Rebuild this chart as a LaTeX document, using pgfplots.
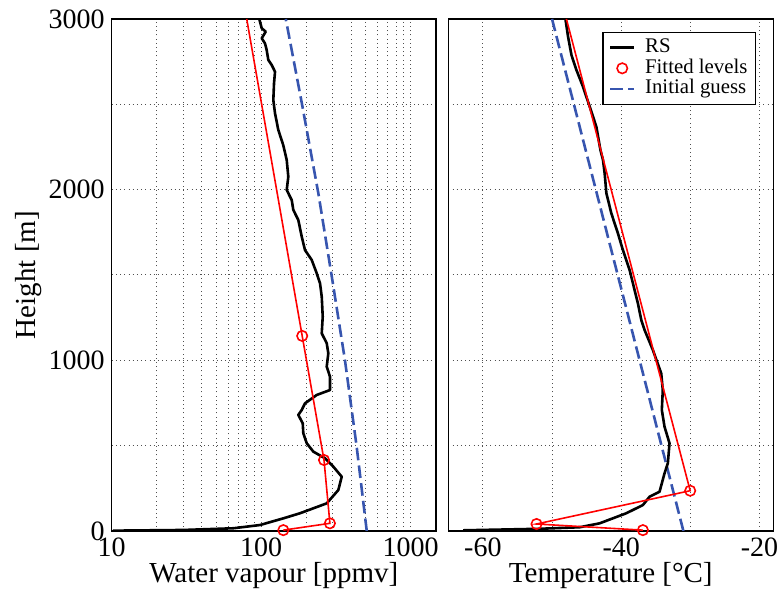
\documentclass[border=0pt]{standalone}
\usepackage{fontspec}
\setmainfont{Liberation Serif}
\usepackage{pgfplots}
\pgfplotsset{compat=1.18}
\definecolor{guessblue}{RGB}{55,85,175}
\definecolor{gridgray}{RGB}{80,80,80}

\pgfplotsset{
  profile/.style={
    scale only axis,
    height=256pt,
    ymin=0, ymax=3000,
    ytick={0,1000,2000,3000},
    minor ytick={500,1500,2500},
    grid=both,
    major grid style={gridgray, line width=0.5pt, dash pattern=on 0.5pt off 1.6pt},
    minor grid style={gridgray, line width=0.5pt, dash pattern=on 0.5pt off 1.6pt},
    major tick length=0pt, minor tick length=0pt,
    axis line style={black, line width=0.6pt},
    tick label style={font=\fontsize{14}{16}\selectfont},
    label style={font=\fontsize{14.5}{17}\selectfont},
    xlabel style={at={(axis description cs:0.5,-0.1)}, anchor=base},
    legend image code/.code={\draw[mark repeat=2,mark phase=2,#1] plot coordinates {(0pt,0pt) (6pt,0pt) (12pt,0pt)};},
  },
  rs/.style={black, line width=1.3pt, line join=round},
  fit/.style={red, line width=0.8pt, mark=o, mark size=2.6pt, mark options={solid}},
  guess/.style={guessblue, line width=1.3pt, dash pattern=on 6.3pt off 2.6pt},
}

\begin{document}
\begin{tikzpicture}
\useasboundingbox (-55.85pt,-31pt) rectangle (334.65pt,265.5pt);

% water vapour
\begin{axis}[profile,
  at={(0pt,0pt)}, anchor=south west,
  width=162.15pt,
  xmode=log, xmin=10, xmax=1476,
  xtick={10,100,1000}, xticklabels={10,100,1000},
  minor xtick={20,30,40,50,60,70,80,90,200,300,400,500,600,700,800,900},
  yticklabels={0,1000,2000,3000},
  xlabel={Water vapour [ppmv]},
  ylabel={Height [m]},
  ylabel style={at={(axis description cs:-0.2365,0.5)}, anchor=base},
]
\addplot[guess, forget plot] coordinates {
  (508,0) (435,494) (363,1002) (299,1471) (241,1979) (187,2506) (146,3000)};
\addplot[rs, forget plot] coordinates {
  (97.1,3000) (100.8,2945) (107.2,2926) (100.8,2887) (106.0,2857) (108.8,2818)
  (111.6,2760) (117.6,2730) (123.7,2691) (121.8,2623) (120.5,2525) (123.7,2447)
  (130.1,2350) (140.5,2260) (148.1,2174) (151.8,2076) (148.1,1998) (160.0,1939)
  (164.0,1881) (177.1,1822) (186.6,1725) (196.3,1646) (217.7,1588) (235.1,1510)
  (247.4,1451) (254.0,1373) (257.9,1256) (254.0,1158) (274.3,1100) (281.1,1041)
  (274.3,963) (288.5,904) (288.5,826) (235.1,797) (196.3,748) (186.6,709)
  (177.1,680) (189.5,631) (191.3,572) (201.6,514) (223.1,465) (267.2,426)
  (303.6,377) (345.6,318) (327.9,240) (274.3,162) (181.8,104) (140.5,74)
  (98.2,35) (65.1,16) (30.1,6) (10.2,2)};
\addplot[fit, mark indices={1,2,3,4}, forget plot] coordinates {
  (140.6,5) (288,45) (263,416) (188,1143) (80,3000)};
\end{axis}

% temperature
\begin{axis}[profile,
  at={(168.3pt,0pt)}, anchor=south west,
  width=162.5pt,
  xmin=-65, xmax=-18,
  xtick={-60,-40,-20}, xticklabels={-60,-40,-20},
  minor xtick={-50,-30},
  yticklabels={},
  xlabel={Temperature [°C]},
  legend style={at={(1,1)}, anchor=north east, xshift=-8.65pt, yshift=-6.35pt,
    draw=black, line width=0.6pt, inner xsep=3pt, inner ysep=2.4pt,
    font=\fontsize{10.4}{12}\selectfont,
    nodes={inner xsep=1pt, inner ysep=0.4pt, text height=7.2pt, text depth=2.4pt},
    /tikz/every odd column/.append style={column sep=3.8pt}},
  legend cell align=left,
]
\addplot[guess, forget plot] coordinates {(-31,0) (-40.5,1500) (-50,3000)};
\addplot[rs, forget plot] coordinates {
  (-48.06,3000) (-47.68,2896) (-47.19,2789) (-46.47,2701) (-45.52,2603)
  (-44.55,2486) (-43.59,2369) (-43.0,2232) (-42.63,2174) (-42.39,2096)
  (-42.14,1979) (-41.42,1861) (-40.47,1744) (-39.75,1646) (-38.78,1529)
  (-38.30,1451) (-37.58,1334) (-37.09,1236) (-36.62,1178) (-35.42,1061)
  (-34.21,924) (-33.98,826) (-34.12,709) (-33.73,611) (-33.01,514)
  (-33.25,397) (-33.73,338) (-34.45,230) (-35.89,201) (-36.86,152)
  (-39.26,104) (-43.11,45) (-46.0,22) (-51.77,13) (-62.84,4)};
\addplot[fit, mark indices={1,2,3}, forget plot] coordinates {
  (-36.86,5) (-52.24,41) (-30.02,236) (-47.92,3000)};
\addlegendimage{rs}
\addlegendentry{RS}
\addlegendimage{red, line width=0.8pt, only marks, mark=o, mark size=2.6pt}
\addlegendentry{Fitted levels}
\addlegendimage{guess}
\addlegendentry{Initial guess}
\end{axis}
\end{tikzpicture}
\end{document}
